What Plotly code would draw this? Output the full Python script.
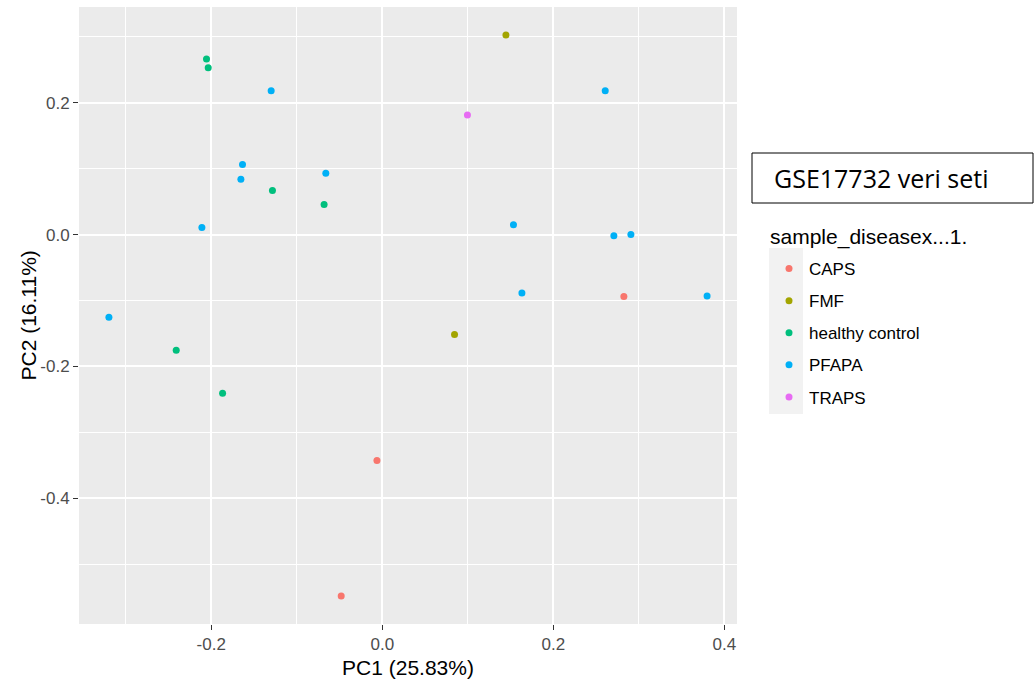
import plotly.graph_objects as go

# PCA scores per disease group
caps_pc1 = [0.2825, -0.0062, -0.0480]
caps_pc2 = [-0.0938, -0.3427, -0.5483]

fmf_pc1 = [0.1446, 0.0845]
fmf_pc2 = [0.3027, -0.1518]

healthy_pc1 = [-0.2055, -0.2035, -0.1284, -0.0680, -0.2409, -0.1867]
healthy_pc2 = [0.2664, 0.2532, 0.0668, 0.0456, -0.1756, -0.2408]

pfapa_pc1 = [-0.1299, 0.2607, -0.1634, -0.1653, -0.0660, -0.2109,
             0.1534, 0.2708, 0.2907, 0.1633, 0.3798, -0.3196]
pfapa_pc2 = [0.2183, 0.2183, 0.1062, 0.0841, 0.0932, 0.0108,
             0.0148, -0.0018, 0.0002, -0.0886, -0.0932, -0.1256]

traps_pc1 = [0.0996]
traps_pc2 = [0.1815]

group_names = ["CAPS", "FMF", "healthy control", "PFAPA", "TRAPS"]
group_colors = ["#F8766D", "#A3A500", "#00BF7D", "#00B0F6", "#E76BF3"]

x_tickvals = [-0.2, 0.0, 0.2, 0.4]
x_ticktext = ["-0.2", "0.0", "0.2", "0.4"]
y_tickvals = [-0.4, -0.2, 0.0, 0.2]
y_ticktext = ["-0.4", "-0.2", "0.0", "0.2"]

x_title = "PC1 (25.83%)"
y_title = "PC2 (16.11%)"
legend_title = "sample_diseasex...1."
box_label = "GSE17732 veri seti"

groups = [
    (caps_pc1, caps_pc2),
    (fmf_pc1, fmf_pc2),
    (healthy_pc1, healthy_pc2),
    (pfapa_pc1, pfapa_pc2),
    (traps_pc1, traps_pc2),
]

fig = go.Figure()
for name, color, (xs, ys) in zip(group_names, group_colors, groups):
    fig.add_trace(go.Scatter(
        x=xs, y=ys, mode="markers", name=name, legendgroup=name,
        marker=dict(color=color, size=7, line=dict(width=0)),
    ))

# ggplot-like 5% expansion of the data range
all_x = sum((g[0] for g in groups), [])
all_y = sum((g[1] for g in groups), [])
def expand(vals, frac=0.05):
    lo, hi = min(vals), max(vals)
    pad = (hi - lo) * frac
    return [lo - pad, hi + pad]

L, R, T, B = 79, 298, 7, 62
W, H = 1035, 686
pw, ph = W - L - R, H - T - B

def px(xpix):
    return (xpix - L) / pw

def py(ypix):
    return (H - B - ypix) / ph

axis_common = dict(
    showgrid=True, gridcolor="white", gridwidth=2,
    zeroline=False, showline=False,
    ticks="outside", ticklen=5, tickwidth=1.1, tickcolor="#333333",
    tickfont=dict(size=17, color="#4D4D4D"),
    minor=dict(dtick=0.1, showgrid=True, gridcolor="white", gridwidth=1, ticks=""),
)

fig.update_layout(
    width=W, height=H,
    margin=dict(l=L, r=R, t=T, b=B),
    paper_bgcolor="white",
    plot_bgcolor="#EBEBEB",
    font=dict(family="Liberation Sans, Arial, sans-serif", color="black"),
    xaxis=dict(range=expand(all_x), tickvals=x_tickvals, ticktext=x_ticktext,
               title=dict(text=x_title, font=dict(size=21, color="black"), standoff=6),
               **axis_common),
    yaxis=dict(range=expand(all_y), tickvals=y_tickvals, ticktext=y_ticktext,
               **axis_common),
    legend=dict(
        font=dict(size=17, color="black"),
        x=px(769), y=py(251), xanchor="left", yanchor="top",
        bgcolor="rgba(0,0,0,0)", borderwidth=0,
        tracegroupgap=7, itemwidth=30,
    ),
    shapes=[
        # grey background behind legend keys
        dict(type="rect", xref="paper", yref="paper",
             x0=px(769), x1=px(803), y0=py(414), y1=py(248),
             fillcolor="#F2F2F2", line=dict(width=0), layer="below"),
        # framed caption box
        dict(type="rect", xref="paper", yref="paper",
             x0=px(752), x1=px(1033), y0=py(203), y1=py(153),
             fillcolor="white", line=dict(color="black", width=1)),
    ],
    annotations=[
        dict(text=box_label, xref="paper", yref="paper",
             x=px(772), y=py(178), xanchor="left", yanchor="middle",
             showarrow=False, font=dict(family="Open Sans, sans-serif", size=25, color="black")),
        # legend heading
        dict(text=legend_title, xref="paper", yref="paper",
             x=px(768), y=py(237), xanchor="left", yanchor="middle",
             showarrow=False, font=dict(size=21, color="black")),
        # y axis title
        dict(text=y_title, xref="paper", yref="paper", textangle=-90,
             x=px(28), y=0.5, xanchor="center", yanchor="middle",
             showarrow=False, font=dict(size=21, color="black")),
    ],
)

fig.write_html("out.html")
